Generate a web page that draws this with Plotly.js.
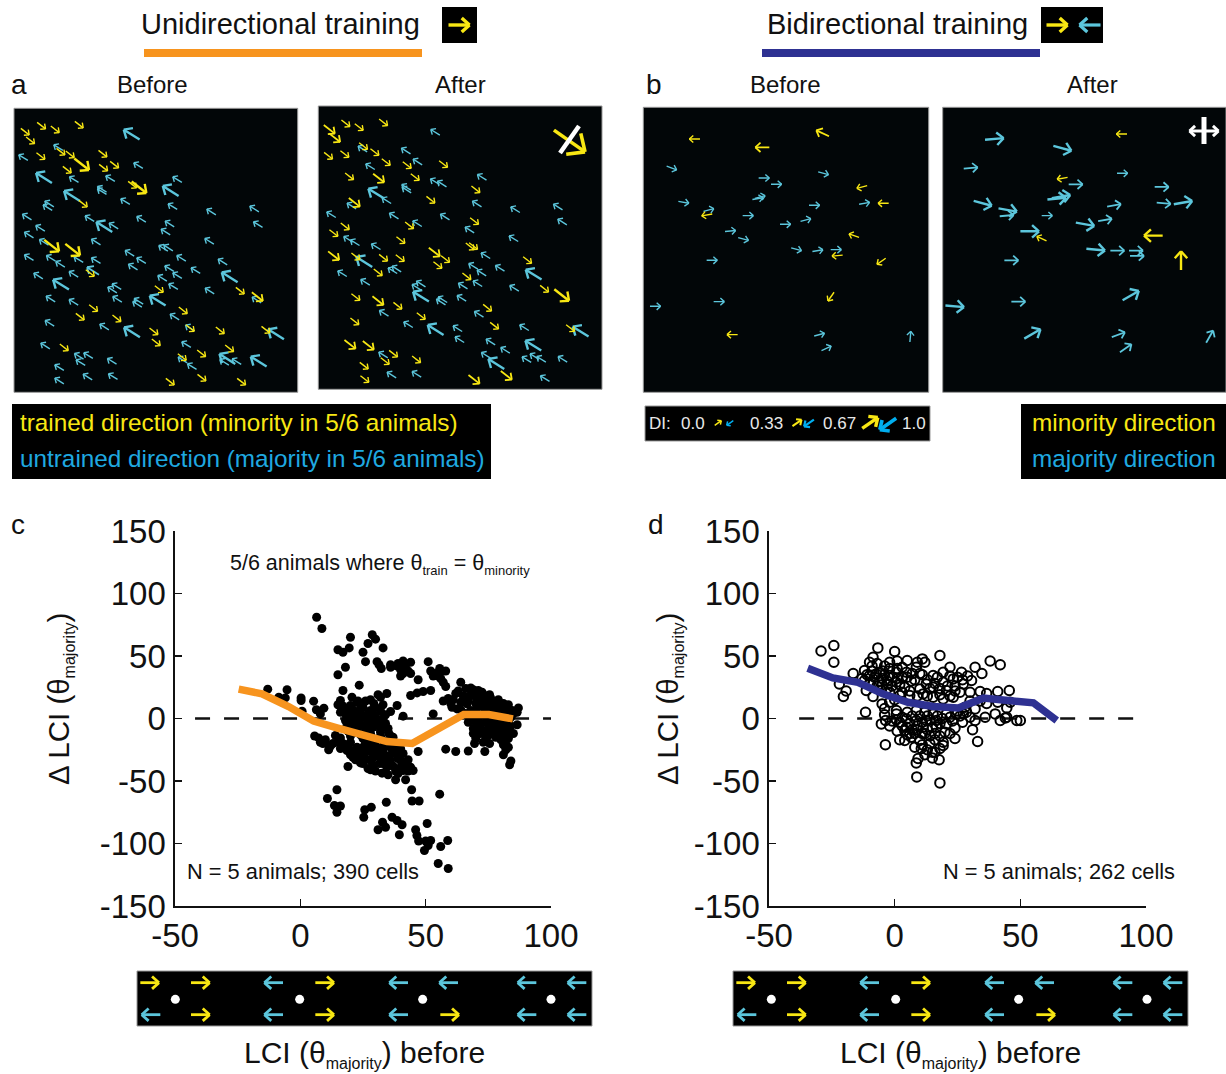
<!DOCTYPE html>
<html><head><meta charset="utf-8">
<script src="https://cdn.plot.ly/plotly-3.0.1.min.js"></script>
<style>html,body{margin:0;padding:0;background:#fff}</style></head>
<body><div id="chart" style="width:1226px;height:1074px"></div>
<script>
// ---- map data: [x, y, DI class 1/2/3, optional angle] in map units
const aBeforeTrained=[[75,95],[124,77],[165,88],[237,74],[91,121],[122,168],[182,155],[210,163],[308,161],[245,193,3],[201,209],[310,203],[343,194],[397,254],[417,262,3],[249,311],[155,437,3],[218,449,3],[270,519],[477,567],[720,572],[772,590,2],[280,624],[240,650],[350,655],[549,631],[570,684],[461,694],[660,691],[797,689],[468,727],[192,742],[688,745],[604,760],[546,771],[605,833],[510,845],[724,845]];
const aBeforeUntrained=[[395,104,3],[175,143],[70,173],[415,197],[132,234,3],[222,239],[331,236],[532,239],[306,268],[306,275],[512,273,3],[216,288,3],[148,312],[143,323],[376,305],[518,320],[634,336],[763,327],[81,351],[269,356],[424,358],[313,381,3],[341,378],[509,372],[774,374],[121,385],[497,396],[87,405],[288,426],[132,427],[628,424],[490,445],[505,444],[389,460],[87,473],[153,475],[181,493],[236,479],[288,482],[424,482],[544,475],[668,486],[399,501],[508,506],[279,513,2],[587,512],[221,523],[115,528],[532,527],[487,535],[689,532,3],[183,554,3],[350,560],[337,570],[520,560],[629,573],[152,597],[221,607],[352,598],[416,604],[412,613],[473,602,3],[770,600],[524,651],[149,670],[313,681],[396,697,3],[828,703,3],[570,684],[559,734],[136,738],[237,769],[242,788],[265,767],[336,784],[548,780],[673,787],[682,777,3],[710,785],[776,785,3],[178,803],[576,800],[263,831],[339,830],[178,843]];
const aAfterTrained=[[58,88,2],[107,70],[147,81],[220,67],[74,113,2],[160,138],[55,167],[104,162],[194,156],[228,186],[291,195],[400,192],[118,229],[206,234,2],[315,231],[497,268],[362,299],[133,307,2],[493,363],[298,376],[105,379],[71,399],[272,420],[480,439],[490,438],[373,456,2],[71,467,2],[137,469],[220,473],[270,474],[406,477],[383,495],[652,480],[204,517],[470,529],[703,566],[137,591],[204,602,2],[263,617],[755,585,3],[532,623],[333,648],[134,664],[553,677],[781,684],[120,733,2],[175,736,2],[250,761],[225,783],[319,778],[162,797],[164,837],[492,838,2],[589,826,2]];
const aAfterUntrained=[[376,97],[158,147],[288,153],[181,200],[323,186],[375,245],[396,252],[516,232],[289,262],[290,270],[199,281,3],[230,302],[501,312],[125,318],[616,329],[744,321],[64,344],[252,348],[405,351],[322,371],[757,366],[479,390],[115,418],[135,428],[611,416],[198,440],[163,486,3],[527,467],[490,499],[570,505],[248,512],[260,507],[515,519],[97,521],[671,524,3],[166,547],[459,558],[503,551],[333,552],[320,562],[613,565],[333,590,3],[455,595],[398,599],[393,606],[222,640],[507,643],[295,674],[377,690,3],[443,686],[643,683],[812,695,3],[449,719],[542,726],[670,737,3],[220,765],[528,766],[586,751],[650,779],[674,770],[694,778],[758,778],[559,792,3],[245,825],[320,823],[705,836]];
const bBeforeMinority=[[179,117,1,180],[382,142,2,180],[563,100,2,155],[681,261,1,195],[745,310,1,180],[216,345,1,190],[657,407,1,160],[607,467,1,185],[739,484,1,215],[588,590,1,235],[292,704,1,180]];
const bBeforeMajority=[[110,204,1,-20],[387,234,1,0],[424,253,1,0],[565,220,1,-15],[375,291,1,15],[368,296,1,10],[146,307,1,-10],[221,330,1,15],[538,316,1,0],[688,310,1,10],[339,347,1,0],[512,360,1,15],[451,373,1,0],[286,393,1,5],[325,417,1,-15],[484,448,1,-15],[548,452,1,10],[603,449,1,0],[231,481,1,0],[252,605,1,0],[61,619,1,0],[553,704,1,15],[574,745,1,25],[826,710,1,85]];
const bAfterMinority=[[560,102,1,180],[382,235,1,190],[320,416,1,155],[655,407,3,180],[738,482,3,90]];
const bAfterMajority=[[178,117,3,5],[382,145,3,-15],[107,204,2,5],[680,261,2,0],[422,253,2,0],[562,220,1,0],[143,310,3,-15],[378,290,3,10],[365,296,3,5],[218,330,3,-10],[215,347,2,5],[336,347,1,0],[537,316,2,10],[686,310,2,-5],[744,308,3,10],[450,373,3,-10],[510,360,2,10],[284,394,3,0],[482,449,3,-5],[547,452,2,0],[603,452,2,0],[606,468,2,0],[229,481,2,0],[250,605,2,0],[59,619,3,-5],[587,587,3,30],[292,702,3,30],[550,704,2,20],[572,745,2,35],[824,710,2,60]];
// ---- strip data
const stripYellow=[[88,67],[240,67],[613,67],[240,163],[613,163],[988,163]];
const stripBlue=[[460,67],[835,67],[985,67],[1220,67],[1370,67],[92,163],[460,163],[835,163],[1220,163],[1370,163]];
const stripDotsX=[165,538,907,1292];
const stripDotsY=[117,117,117,117];
// ---- scatter c
const cX=[6.5,8.6,20,28.7,30,27,15,17,19.5,33,25,26,30.6,31.4,32.3,18,15,36,38.6,41,44,40,40,42,44,47,51,52,53,55.6,58,56,58,23.5,17,44,46.6,49,52,-13,-5.3,-8.6,-6,0.3,0.3,5.3,6.4,9.4,8,0.7,16,15,20.6,32,34.5,29.3,38.6,36,41,53,20,22.6,25,28,18,18,22,24,26.6,30,33,33,25,21,28,30.6,22.6,18.6,
64,62,57,60.5,68,72.5,75.5,79,83,87,86.5,86.5,66.5,70,73,76.5,80,64,66.5,70,73,76.5,62.5,68,71,81,84.5,78.5,67,69,72,75,75,79,80,83,82,83,81,84,83.5,73,75.5,73.6,69.5,67,62,58,47,77,81,73,70,78.5,
5.7,7.3,9,11.3,13,14,16,20,18.6,21,19,24,27,28,25,28,30.6,33,36,38.6,25,29,33,36,32.6,35,38,42,45,42.6,40,37,33,29,25,40,44,41,22.6,21,36.6,31.6,34.5,28,32,35.3,
14.6,10.8,13.6,16,14.6,34.3,28.3,25.7,25.3,36.6,38.6,40.6,39.5,32.8,34,31,44.4,44.6,47.4,55.6,50.6,46,46.5,47.2,50,52,51,49.5,56,58.8,55,59];
const cY=[81,72,65,67,63.5,60,55,53,56.5,56.5,53,45.5,45.5,43,40,41,35,43,42,46,45,39,34,40,36,31,45.5,38,34,40,38,32,25.6,26.7,22.4,18.4,20.5,21.6,22.4,23.5,23,17,16.5,16.5,14.4,13.9,7,8.3,3.7,5.9,14.4,11,17,17,20,12,10.4,5.6,1.9,3.7,10.4,13,9,6.4,3.7,-1.6,2.4,0,1,1,0,-5.6,-5.6,-1.6,-4,-4,-8,-5.6,
29,20,14,9,24.5,21,19,15,11,8.5,5,-5,17,17,14.4,12,9,13,11.7,12,9,6.4,7.7,6.4,22.4,6.4,6.4,12,-3,-8,-4,-8,-13.6,-4,-11,-11,-17.6,-23,-29,-34,-37,-19,-20,-26.4,-20,-26,-26.4,-24.5,-26.4,-7,-13.6,-9.6,-3,-12,
-14,-15.5,-20,-25,-20,-13.6,-15.5,-19,-25.6,-31,-38.4,-35.5,-40,-33.6,-23,-23,-23,-23,-23,-28,-28,-31,-31,-33.6,-43.7,-45,-49,-49,-41.6,-36,-39,-15,-17.6,-16,-16,-33.6,-39,-41.6,-23,-25.6,-28,-36,-39,-12,-11,-12,
-57,-64,-69.6,-70,-75,-67,-71,-73,-79,-79,-81.6,-85,-93,-83,-87,-89,-57,-66,-66,-60.5,-84,-89,-93.6,-98,-98,-97.6,-101.6,-105.6,-102.4,-97.6,-116,-120];
// dense regions of panel c, read as closely as overlap allows
const cDenseX=[19,21,23,24,26,27,29,31,32,34,35,36,20,22,24,26,27,28,29,30,31,32,33,34,35,36,37,38,39,40,41,23,24,26,27,29,31,33,35,37,38,39,41,43,43,22,20,17,15,12,10,8,16,19,25,28,30,17,19,21,24,26,28,30,32,33,31,29,27,23,18,20,22,34,16,
61,63,65,66,67,68,69,70,71,72,73,74,75,76,77,78,79,80,81,82,83,84,85,69,71,73,74,75,76,78,79,81,82,83,84,85,83,81,82,77,78,80,74,72,71,68,66,64,60,59,69,70,36,39,42,43,41,54,56,57,55];
const cDenseY=[-10,-6,-3,4,-9,-2,-7,-1,-9,-4,-8,-14,-14,-11,-13,-19,-14,-20,-25,-18,-27,-14,-26,-21,-30,-19,-25,-20,-32,-24,-28,-27,-30,-32,-26,-37,-30,-36,-35,-38,-42,-44,-36,-42,-33,-33,-29,-20,-19,-22,-17,-19,-24,-21,-36,-41,-42,10,6,7,8,14,15,9,6,11,19,4,4,14,8,1,-3,3,5,
15,22,18,24,14,19,23,7,15,11,19,14,9,16,3,8,11,3,12,8,5,1,4,2,-1,3,-3,-1,-5,-1,-8,-4,-8,-2,-6,-12,-16,-21,-25,-11,-15,-17,-14,-12,-8,1,4,7,12,16,-12,-16,41,44,43,38,36,36,38,29,34];
const cCurveX=[-24.6,-15.3,-4.7,5.3,14.6,25.3,34.6,44.6,55.9,65.2,75.2,84.8];
const cCurveY=[23.5,19.7,9.6,-2,-7.5,-14,-18.4,-20,-7.5,3.2,3.2,-0.3];
// ---- scatter d
const dX=[-29.3,-24.2,-24.2,-16.5,-22,-19.3,-20.4,-6.7,0,-8.6,-10,-2,1,5,11,18,8.6,10,4.7,-12,-10,-7.3,-4.7,-2,0.7,-12,-8.6,-6,-2.7,0.7,4,6.6,10,15.3,19.3,22,26.6,32,38,42,34.7,30.6,27.3,23.3,19.3,15.3,20.6,26,30,12.6,-11.3,-8.6,-5,-11.6,45.6,41,36.6,34,36.6,41,46,44.6,44,42,48.6,50,36,32,32,28.6,31,33,40,44.6,
-5.3,-3.6,0.7,0.7,4.7,4.7,8.6,12.6,16.6,20.6,24,24,19.3,16,12,8,4,2,4,-3.7,6.6,10,14,18,19.3,8,10.6,15,9.3,8.6,15,17.7,8.8,18,11.3,16.6,0.7,20.6,8.6,15.3,24.6,27.3,6,15.3,19.3,23.3,11.3,2,-2,-5.3];
const dY=[54,58.4,45,36,27.7,22,17.6,56.5,53.6,49,45,45,46,46.4,47.7,50.4,41,36,37,38.4,34.4,35.7,38,34.4,37,30.4,29,30,27.7,29,25,30,23.7,34.4,37,41,37,41,46,43,36,30.4,27.7,31.7,29,25,22.4,21,21,27.7,22.4,17.6,11.7,5,22.4,21.6,20,21.6,12,13,13,8.5,0.5,-1.6,-1.6,-1.6,1,-1.6,7.7,5,-9,-18.4,3.7,1,
-4.3,-1.6,6.4,-1,-0.3,-7,-1.6,-1.6,-1.6,-4.3,-7.5,-16,-19,-12,-12,-12,-9.6,-17,-17.6,-21,-15,-17.6,-20,-24,-21.6,-23,-24,-27,-32,-35.5,-31.5,-33,-46.7,-51.5,-7,-7,3.7,3.7,6.4,3.7,3.7,3.7,18.4,17,15.7,17,19.7,18.4,21,22.4];
// dense regions of panel d
const dDenseX=[-13,-11,-9,-8,-6,-5,-4,-3,-1,-10,-7,-5,-3,-1,1,2,3,-9,-7,-4,-2,1,3,5,7,8,9,12,11,13,14,16,17,18,21,22,24,25,27,29,24,22,18,13,9,6,3,0,-2,-4,12,10,7,5,3,2,6,9,11,14,13,17,19,22,23,25,18,15,13,11,9,7,6,14,16,18,20,22,11,13,12,16,5,1,-2,-1,-4,3,26,28,30,34,30,27];
const dDenseY=[32,35,38,33,37,32,35,30,33,28,26,27,24,26,32,27,33,42,44,42,40,40,41,33,36,31,45,45,35,31,24,28,33,24,26,34,26,33,31,34,22,18,19,18,18,22,21,15,13,8,5,2,2,5,1,-3,-4,-6,-3,-1,2,2,0,1,-2,6,-4,-7,-9,-12,-9,-9,-12,-14,-17,-14,-11,-12,-21,-25,-29,-27,-13,-10,-6,-2,3,-6,2,9,14,14,1,-3];
const dCurveX=[-34.6,-24.6,-14.6,-4.7,5.3,15.3,25.3,35.3,45.2,55.2,64.5];
const dCurveY=[40.3,32.5,29,19.7,13,9.6,8.5,16.3,14.4,12.5,-1.6];
const xTicks=[-50,0,50,100], xTickText=['-50','0','50','100'];
const yTicks=[-150,-100,-50,0,50,100,150], yTickText=['-150','-100','-50','0','50','100','150'];
// ---- small glyphs on the page (pixel positions of decoration)
const diYellow=[[718,423,8,35,1.5],[797,423,11,35,2],[870,423,19,35,3.4]];
const diBlue=[[730,423,8,215,1.5],[809,423,12,215,2.2],[888,424,20,215,3.6]];

const W=1226,H=1074,FONT='"Liberation Sans",Arial,sans-serif';
const YEL='#f8e713',CY='#5cc6dc',ORANGE='#f7941e',NAVY='#2e3192';
const data=[];
const layout={width:W,height:H,margin:{l:0,r:0,t:0,b:0},paper_bgcolor:'#fff',plot_bgcolor:'rgba(0,0,0,0)',showlegend:false,hovermode:false,shapes:[],annotations:[],font:{family:FONT,color:'#111'}};
function axes(n,l,r,t,b,xr,yr,extraX,extraY){
  const s=n===1?'':n;
  layout['xaxis'+s]=Object.assign({domain:[l/W,r/W],range:xr,anchor:'y'+s,visible:false,fixedrange:true},extraX||{});
  layout['yaxis'+s]=Object.assign({domain:[1-b/H,1-t/H],range:yr,anchor:'x'+s,visible:false,fixedrange:true},extraY||{});
}
function rect(l,r,t,b,fill,line){
  layout.shapes.push({type:'rect',xref:'paper',yref:'paper',x0:l/W,x1:r/W,y0:1-b/H,y1:1-t/H,fillcolor:fill,line:line?{color:line,width:1}:{width:0},layer:'below'});
}
function arrowPts(a,x,y,len,deg){
  const t=deg*Math.PI/180,c=Math.cos(t),s=Math.sin(t);
  const hx=x+c*len/2,hy=y-s*len/2,wing=len*0.5;
  a.x.push(x-c*len/2,hx,null);a.y.push(y+s*len/2,hy,null);
  for(const d of [138,-138]){
    const u=(deg+d)*Math.PI/180;
    a.x.push(hx,hx+Math.cos(u)*wing,null);a.y.push(hy,hy-Math.sin(u)*wing,null);
  }
}
function arrowTrace(n,a,color,width){
  const s=n===1?'':n;
  data.push({type:'scatter',mode:'lines',x:a.x,y:a.y,xaxis:'x'+s,yaxis:'y'+s,line:{color:color,width:width},hoverinfo:'skip',connectgaps:false});
}
const LENS={1:32,2:42,3:56},WID={1:1.4,2:1.8,3:2.4};
function mapArrows(n,list,color,defAngle){
  [1,2,3].forEach(k=>{
    const a={x:[],y:[]};
    list.filter(p=>(p[2]||1)===k).forEach(p=>arrowPts(a,p[0],p[1],LENS[k],p[3]===undefined?defAngle:p[3]));
    if(a.x.length)arrowTrace(n,a,color,WID[k]);
  });
}
function single(n,list,color){ // list of [x,y,len,angle,width]
  list.forEach(p=>{const a={x:[],y:[]};arrowPts(a,p[0],p[1],p[2],p[3]);arrowTrace(n,a,color,p[4]);});
}
function note(text,x,y,size,color,anchor,angle){
  layout.annotations.push({text:text,xref:'x9',yref:'y9',x:x,y:y,showarrow:false,xanchor:anchor||'left',yanchor:'middle',textangle:angle||0,font:{family:FONT,size:size,color:color||'#111'},borderpad:0,borderwidth:0});
}

// axes
const scatterX={visible:true,showgrid:false,zeroline:false,showline:true,linecolor:'#111',linewidth:1.6,ticks:'inside',ticklen:7,tickwidth:1.6,tickcolor:'#111',tickmode:'array',tickvals:xTicks,ticktext:xTickText,tickfont:{size:33,family:FONT,color:'#111'},ticklabelstandoff:0};
const scatterY=Object.assign({},scatterX,{tickvals:yTicks,ticktext:yTickText,ticklabelstandoff:1});
axes(1,175,551,531,906,[-50,100],[-150,150],scatterX,scatterY);
axes(2,769,1146,531,906,[-50,100],[-150,150],scatterX,scatterY);
axes(3,14,297.7,108.3,392.3,[42,893],[877,25]);
axes(4,318.3,602,106,389.3,[25,876],[868,18]);
axes(5,643.3,928.7,107.3,392.3,[25,881],[877,22]);
axes(6,942.7,1226,107.3,392.3,[23,873],[877,22]);
axes(7,137,592,971,1026,[50,1415],[197,32]);
axes(8,733,1188,971,1026,[50,1415],[197,32]);
axes(9,0,W,0,H,[0,W],[H,0]);

// black boxes
rect(14,297.7,108.3,392.3,'#020608','#999');
rect(318.3,602,106,389.3,'#020608','#999');
rect(643.3,928.7,107.3,392.3,'#020608','#999');
rect(942.7,1226,107.3,392.3,'#020608','#999');
rect(137,592,971,1026,'#000','#999');
rect(733,1188,971,1026,'#000','#999');
rect(442,477,7,43,'#000');
rect(1041,1103,7,43,'#000');
rect(144,422,49,57,ORANGE);
rect(762,1040,49,57,NAVY);
rect(12,491,404,479,'#000');
rect(1021,1226,404,479,'#000');
rect(645,930,406,441,'#000','#999');

// maps
mapArrows(3,aBeforeUntrained,CY,148);mapArrows(3,aBeforeTrained,YEL,-38);
mapArrows(4,aAfterUntrained,CY,148);mapArrows(4,aAfterTrained,YEL,-38);
mapArrows(5,bBeforeMajority,CY,0);mapArrows(5,bBeforeMinority,YEL,180);
mapArrows(6,bAfterMajority,CY,0);mapArrows(6,bAfterMinority,YEL,180);

// strips
[7,8].forEach(n=>{
  const s=n;
  const ay={x:[],y:[]},ab={x:[],y:[]};
  stripYellow.forEach(p=>arrowPts(ay,p[0],p[1],56,0));
  stripBlue.forEach(p=>arrowPts(ab,p[0],p[1],56,180));
  arrowTrace(n,ay,YEL,2.8);arrowTrace(n,ab,CY,2.8);
  data.push({type:'scatter',mode:'markers',x:stripDotsX,y:stripDotsY,xaxis:'x'+s,yaxis:'y'+s,marker:{color:'#fff',size:9},hoverinfo:'skip'});
});

// scatter c, d
data.push({type:'scatter',mode:'lines',x:[-42,100],y:[0,0],xaxis:'x',yaxis:'y',line:{color:'#111',width:2.4,dash:'15px,14px'},hoverinfo:'skip'});
data.push({type:'scatter',mode:'markers',x:cX.concat(cDenseX),y:cY.concat(cDenseY),xaxis:'x',yaxis:'y',marker:{color:'#000',size:9},hoverinfo:'skip'});
data.push({type:'scatter',mode:'lines',x:cCurveX,y:cCurveY,xaxis:'x',yaxis:'y',line:{color:ORANGE,width:7.5},hoverinfo:'skip'});
data.push({type:'scatter',mode:'lines',x:[-38,96],y:[0,0],xaxis:'x2',yaxis:'y2',line:{color:'#111',width:2.4,dash:'15px,14px'},hoverinfo:'skip'});
data.push({type:'scatter',mode:'markers',x:dX.concat(dDenseX),y:dY.concat(dDenseY),xaxis:'x2',yaxis:'y2',marker:{color:'rgba(0,0,0,0)',size:9.5,line:{color:'#000',width:2}},hoverinfo:'skip'});
data.push({type:'scatter',mode:'lines',x:dCurveX,y:dCurveY,xaxis:'x2',yaxis:'y2',line:{color:NAVY,width:7.5},hoverinfo:'skip'});

// page-level glyphs
single(9,[[459,25,21,0,3.4],[1057,25,21,0,3.4]],YEL);
single(9,[[1090,25,21,180,3.2]],CY);
single(9,diYellow,YEL);
single(9,diBlue,'#00aeef');
single(9,[[569.5,141,38,-35,3.6]],YEL);
data.push({type:'scatter',mode:'lines',x:[560,579],y:[153,126],xaxis:'x9',yaxis:'y9',line:{color:'#fff',width:4.5},hoverinfo:'skip'});
data.push({type:'scatter',mode:'lines',x:[1204,1204],y:[117,144],xaxis:'x9',yaxis:'y9',line:{color:'#fff',width:5},hoverinfo:'skip'});
single(9,[[1197,131,15,180,3],[1211,131,15,0,3]],'#fff');

// text
const SUB=t=>'<sub><span style="font-size:16px">'+t+'</span></sub>';
note('Unidirectional training',141,24,29);
note('Bidirectional training',767,24,29);
note('a',11,84,28);note('b',646,84,28);note('c',11,524,28);note('d',648,524,28);
note('Before',152.5,84,24,'#111','center');note('After',460,84,24,'#111','center');
note('Before',785,84,24,'#111','center');note('After',1092,84,24,'#111','center');
note('trained direction (minority in 5/6 animals)',20,422.5,24.3,YEL);
note('untrained direction (majority in 5/6 animals)',20,458.5,24.3,'#1fa9e0');
note('minority direction',1032,422.5,24.3,YEL);
note('majority direction',1032,458.5,24.3,'#1fa9e0');
note('DI:',649,423,17,'#e8e8e8');note('0.0',681,423,17,'#e8e8e8');note('0.33',750,423,17,'#e8e8e8');note('0.67',823,423,17,'#e8e8e8');note('1.0',902,423,17,'#e8e8e8');
note('5/6 animals where θ<sub><span style="font-size:13px">train</span></sub> = θ<sub><span style="font-size:13px">minority</span></sub>',230,564,21.5);
note('N = 5 animals; 390 cells',187,871,21.8);
note('N = 5 animals; 262 cells',943,871,21.8);
note('Δ LCI (θ'+SUB('majority')+')',60,699,29.5,'#111','center',-90);
note('Δ LCI (θ'+SUB('majority')+')',669,699,29.5,'#111','center',-90);
note('LCI (θ'+SUB('majority')+') before',364,1054,30,'#111','center');
note('LCI (θ'+SUB('majority')+') before',960,1054,30,'#111','center');

Plotly.newPlot('chart',data,layout,{displayModeBar:false,staticPlot:true});
</script></body></html>
